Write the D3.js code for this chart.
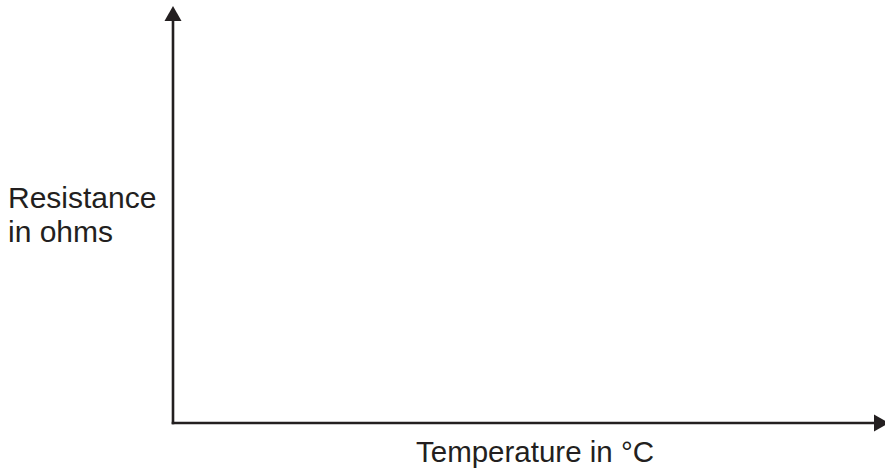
<!DOCTYPE html>
<html>
<head>
<meta charset="utf-8">
<script src="https://cdn.jsdelivr.net/npm/d3@7"></script>
<style>
  body { margin: 0; background: #fff; }
  svg { display: block; }
</style>
</head>
<body>
<div id="chart"></div>
<script>
// Axis labels (the chart is a blank sketch graph: no ticks, no data)
const xLabel = "Temperature in °C";
const yLabelLines = ["Resistance", "in ohms"];
const xDomain = [0, 1];
const yDomain = [0, 1];

const width = 885, height = 468;
const margin = {top: 21, right: 8, bottom: 45, left: 173};
const ink = "#231f20";

const svg = d3.select("#chart").append("svg")
  .attr("width", width)
  .attr("height", height);

const x = d3.scaleLinear().domain(xDomain).range([margin.left, width - margin.right]);
const y = d3.scaleLinear().domain(yDomain).range([height - margin.bottom, margin.top]);

// Axes with no ticks
const xAxis = svg.append("g")
  .attr("transform", `translate(0,${y(0)})`)
  .call(d3.axisBottom(x).tickValues([]).tickSizeOuter(0));
const yAxis = svg.append("g")
  .attr("transform", `translate(${x(0)},0)`)
  .call(d3.axisLeft(y).tickValues([]).tickSizeOuter(0));

svg.selectAll(".domain")
  .attr("stroke", ink)
  .attr("stroke-width", 2.6);

// extend the domain lines so they meet at the corner
xAxis.select(".domain").attr("d", `M${x(0) - 1.3},0H${x(1) - 2}`);
yAxis.select(".domain").attr("d", `M0,${y(0) + 1.3}V${y(1)}`);

// arrowheads
const ah = 15, aw = 8.5;
svg.append("path")
  .attr("d", `M${x(0)},${y(1) - ah} L${x(0) - aw},${y(1)} L${x(0) + aw},${y(1)} Z`)
  .attr("fill", ink);
svg.append("path")
  .attr("d", `M${x(1) + ah - 3},${y(0)} L${x(1) - 3},${y(0) - aw} L${x(1) - 3},${y(0) + aw} Z`)
  .attr("fill", ink);

// labels
svg.append("text")
  .attr("x", 535)
  .attr("y", 462)
  .attr("text-anchor", "middle")
  .attr("font-family", "Liberation Sans, Arial, sans-serif")
  .attr("font-size", 29.5)
  .attr("fill", ink)
  .text(xLabel);

const yl = svg.append("text")
  .attr("font-family", "Liberation Sans, Arial, sans-serif")
  .attr("font-size", 30)
  .attr("fill", ink);
yl.selectAll("tspan")
  .data(yLabelLines)
  .join("tspan")
  .attr("x", 8)
  .attr("y", (d, i) => 208 + i * 34)
  .text(d => d);
</script>
</body>
</html>
